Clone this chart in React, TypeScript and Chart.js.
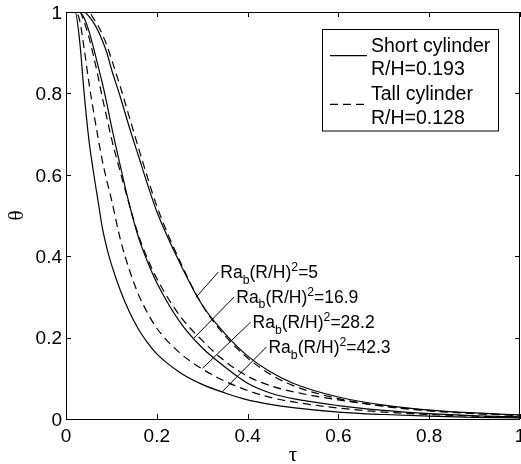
import React, { useEffect, useRef } from 'react';
import { Chart, registerables } from 'chart.js';
Chart.register(...registerables);

// dimensionless time grid
const tau = [0, 0.02, 0.03, 0.04, 0.05, 0.06, 0.07, 0.08, 0.09, 0.1, 0.12, 0.14, 0.16, 0.18, 0.2, 0.25, 0.3, 0.35, 0.4, 0.45, 0.5, 0.6, 0.7, 0.8, 0.9, 1.0];

// short cylinder R/H=0.193 (solid)
const shortRa5 = [1, 1, 1, 1, 0.99, 0.975, 0.955, 0.93, 0.9, 0.86, 0.79, 0.715, 0.645, 0.575, 0.51, 0.385, 0.28, 0.21, 0.155, 0.116, 0.088, 0.054, 0.034, 0.022, 0.015, 0.01];
const shortRa169 = [1, 1, 1, 0.985, 0.955, 0.915, 0.87, 0.825, 0.775, 0.72, 0.62, 0.525, 0.445, 0.385, 0.335, 0.24, 0.175, 0.128, 0.088, 0.064, 0.05, 0.033, 0.021, 0.013, 0.008, 0.005];
const shortRa423 = [1, 1, 0.93, 0.8, 0.69, 0.61, 0.54, 0.47, 0.42, 0.38, 0.315, 0.262, 0.22, 0.187, 0.16, 0.115, 0.085, 0.064, 0.047, 0.036, 0.028, 0.017, 0.011, 0.007, 0.004, 0.003];

// tall cylinder R/H=0.128 (dashed)
const tallRa5 = [1, 1, 1, 1, 1, 0.985, 0.968, 0.945, 0.918, 0.885, 0.815, 0.74, 0.665, 0.592, 0.523, 0.39, 0.28, 0.205, 0.15, 0.11, 0.082, 0.05, 0.031, 0.02, 0.013, 0.009];
const tallRa169 = [1, 1, 1, 0.975, 0.94, 0.895, 0.845, 0.79, 0.74, 0.69, 0.605, 0.525, 0.45, 0.393, 0.345, 0.255, 0.193, 0.142, 0.105, 0.082, 0.067, 0.047, 0.032, 0.021, 0.014, 0.009];
const tallRa282 = [1, 1, 0.98, 0.91, 0.83, 0.76, 0.695, 0.635, 0.585, 0.54, 0.44, 0.365, 0.305, 0.26, 0.223, 0.163, 0.123, 0.093, 0.07, 0.053, 0.042, 0.027, 0.017, 0.011, 0.007, 0.004];

const xTicks = [0, 0.2, 0.4, 0.6, 0.8, 1];
const yTicks = [0, 0.2, 0.4, 0.6, 0.8, 1];

// annotations: Ra_b (R/H)^2 values, label anchor and leader end (data coords)
const raValues = ['5', '16.9', '28.2', '42.3'];
const labelTau = [0.34, 0.375, 0.411, 0.446];
const labelTheta = [0.361, 0.3, 0.238, 0.177];
const leaderEndTau = [0.287, 0.281, 0.301, 0.344];
const leaderEndTheta = [0.3, 0.198, 0.125, 0.067];

const legendLines = [['Short cylinder', 'R/H=0.193'], ['Tall cylinder', 'R/H=0.128']];

const SANS = '"Liberation Sans", Arial, Helvetica, sans-serif';
const SERIF = '"Liberation Serif", "Times New Roman", serif';
const DASH = [8, 5];

function drawRich(ctx: CanvasRenderingContext2D, x: number, yMid: number, size: number, parts: { t: string; k: string }[]) {
  const base = yMid + size * 0.36;
  let cx = x;
  for (const p of parts) {
    let s = size;
    let dy = 0;
    if (p.k === 'sub') { s = size * 0.7; dy = size * 0.3; }
    if (p.k === 'sup') { s = size * 0.7; dy = -size * 0.42; }
    ctx.font = `${s}px ${SANS}`;
    ctx.fillText(p.t, cx, base + dy);
    cx += ctx.measureText(p.t).width;
  }
}

const decoPlugin = {
  id: 'deco',
  afterDatasetsDraw(chart: any) {
    const { ctx, chartArea: a, scales } = chart;
    const xs = scales.x;
    const ys = scales.y;
    ctx.save();
    ctx.strokeStyle = '#000';
    ctx.fillStyle = '#000';
    ctx.lineWidth = 1;
    ctx.setLineDash([]);
    // frame
    ctx.strokeRect(a.left + 0.5, a.top + 0.5, a.right - a.left - 1, a.bottom - a.top);
    // inward ticks
    const TL = 5;
    ctx.beginPath();
    for (const v of xTicks) {
      const px = Math.round(xs.getPixelForValue(v)) + 0.5;
      ctx.moveTo(px, a.bottom); ctx.lineTo(px, a.bottom - TL);
      ctx.moveTo(px, a.top); ctx.lineTo(px, a.top + TL);
    }
    for (const v of yTicks) {
      const py = Math.round(ys.getPixelForValue(v)) + 0.5;
      ctx.moveTo(a.left, py); ctx.lineTo(a.left + TL, py);
      ctx.moveTo(a.right, py); ctx.lineTo(a.right - TL, py);
    }
    ctx.stroke();
    // tick labels
    ctx.font = `19px ${SANS}`;
    ctx.textBaseline = 'alphabetic';
    ctx.textAlign = 'center';
    for (const v of xTicks) {
      ctx.fillText(String(+v.toFixed(1)), xs.getPixelForValue(v), a.bottom + 23);
    }
    ctx.textAlign = 'right';
    for (const v of yTicks) {
      ctx.fillText(String(+v.toFixed(1)), a.left - 4, ys.getPixelForValue(v) + 6.8);
    }
    // axis titles
    ctx.textAlign = 'center';
    ctx.font = `21px ${SERIF}`;
    ctx.fillText('τ', (a.left + a.right) / 2, a.bottom + 42);
    ctx.save();
    ctx.translate(16, (a.top + a.bottom) / 2);
    ctx.rotate(-Math.PI / 2);
    ctx.textBaseline = 'alphabetic';
    ctx.fillText('θ', 0, 7);
    ctx.restore();

    // annotations
    ctx.textAlign = 'left';
    for (let i = 0; i < raValues.length; i++) {
      const lx = xs.getPixelForValue(labelTau[i]);
      const ly = ys.getPixelForValue(labelTheta[i]);
      const ex = xs.getPixelForValue(leaderEndTau[i]);
      const ey = ys.getPixelForValue(leaderEndTheta[i]);
      ctx.beginPath();
      ctx.moveTo(lx - 2, ly);
      ctx.lineTo(ex, ey);
      ctx.stroke();
      drawRich(ctx, lx, ly, 17.5, [
        { t: 'Ra', k: 'n' }, { t: 'b', k: 'sub' }, { t: '(R/H)', k: 'n' }, { t: '2', k: 'sup' }, { t: '=' + raValues[i], k: 'n' },
      ]);
    }

    // legend
    const bx = 322.5, by = 29.5, bw = 176, bh = 101.5;
    ctx.fillStyle = '#fff';
    ctx.fillRect(bx, by, bw, bh);
    ctx.strokeRect(bx, by, bw, bh);
    ctx.fillStyle = '#000';
    ctx.lineWidth = 1.2;
    ctx.beginPath();
    ctx.moveTo(330, 55.7); ctx.lineTo(367, 55.7);
    ctx.stroke();
    ctx.setLineDash(DASH);
    ctx.beginPath();
    ctx.moveTo(330, 104.3); ctx.lineTo(367, 104.3);
    ctx.stroke();
    ctx.setLineDash([]);
    ctx.font = `19.5px ${SANS}`;
    ctx.textAlign = 'left';
    const baselines = [[51.5, 75], [100, 124]];
    legendLines.forEach((pair, i) => {
      pair.forEach((txt, j) => ctx.fillText(txt, 371, baselines[i][j]));
    });
    ctx.restore();
  },
};

function mk(vals: number[], dashed: boolean, label: string) {
  return {
    label,
    data: tau.map((t, i) => ({ x: t, y: vals[i] })),
    borderColor: '#000',
    borderWidth: 1.2,
    borderDash: dashed ? DASH : [],
    pointRadius: 0,
    fill: false,
    cubicInterpolationMode: 'monotone' as const,
  };
}

export default function App() {
  const ref = useRef<HTMLCanvasElement>(null);
  useEffect(() => {
    if (!ref.current) return;
    const chart = new Chart(ref.current, {
      type: 'line',
      data: {
        datasets: [
          mk(shortRa5, false, 'short 5'),
          mk(shortRa169, false, 'short 16.9'),
          mk(shortRa423, false, 'short 42.3'),
          mk(tallRa5, true, 'tall 5'),
          mk(tallRa169, true, 'tall 16.9'),
          mk(tallRa282, true, 'tall 28.2'),
        ],
      },
      options: {
        responsive: false,
        animation: false,
        devicePixelRatio: 1,
        layout: { padding: { left: 66, right: 1, top: 12, bottom: 45 } },
        plugins: { legend: { display: false }, tooltip: { enabled: false } },
        scales: {
          x: { type: 'linear', min: 0, max: 1, display: false },
          y: { type: 'linear', min: 0, max: 1, display: false },
        },
      },
      plugins: [decoPlugin],
    });
    return () => chart.destroy();
  }, []);
  return (
    <div style={{ position: 'fixed', left: 0, top: 0, width: 521, height: 464, background: '#fff' }}>
      <canvas ref={ref} width={521} height={464} style={{ display: 'block', width: 521, height: 464 }} />
    </div>
  );
}
